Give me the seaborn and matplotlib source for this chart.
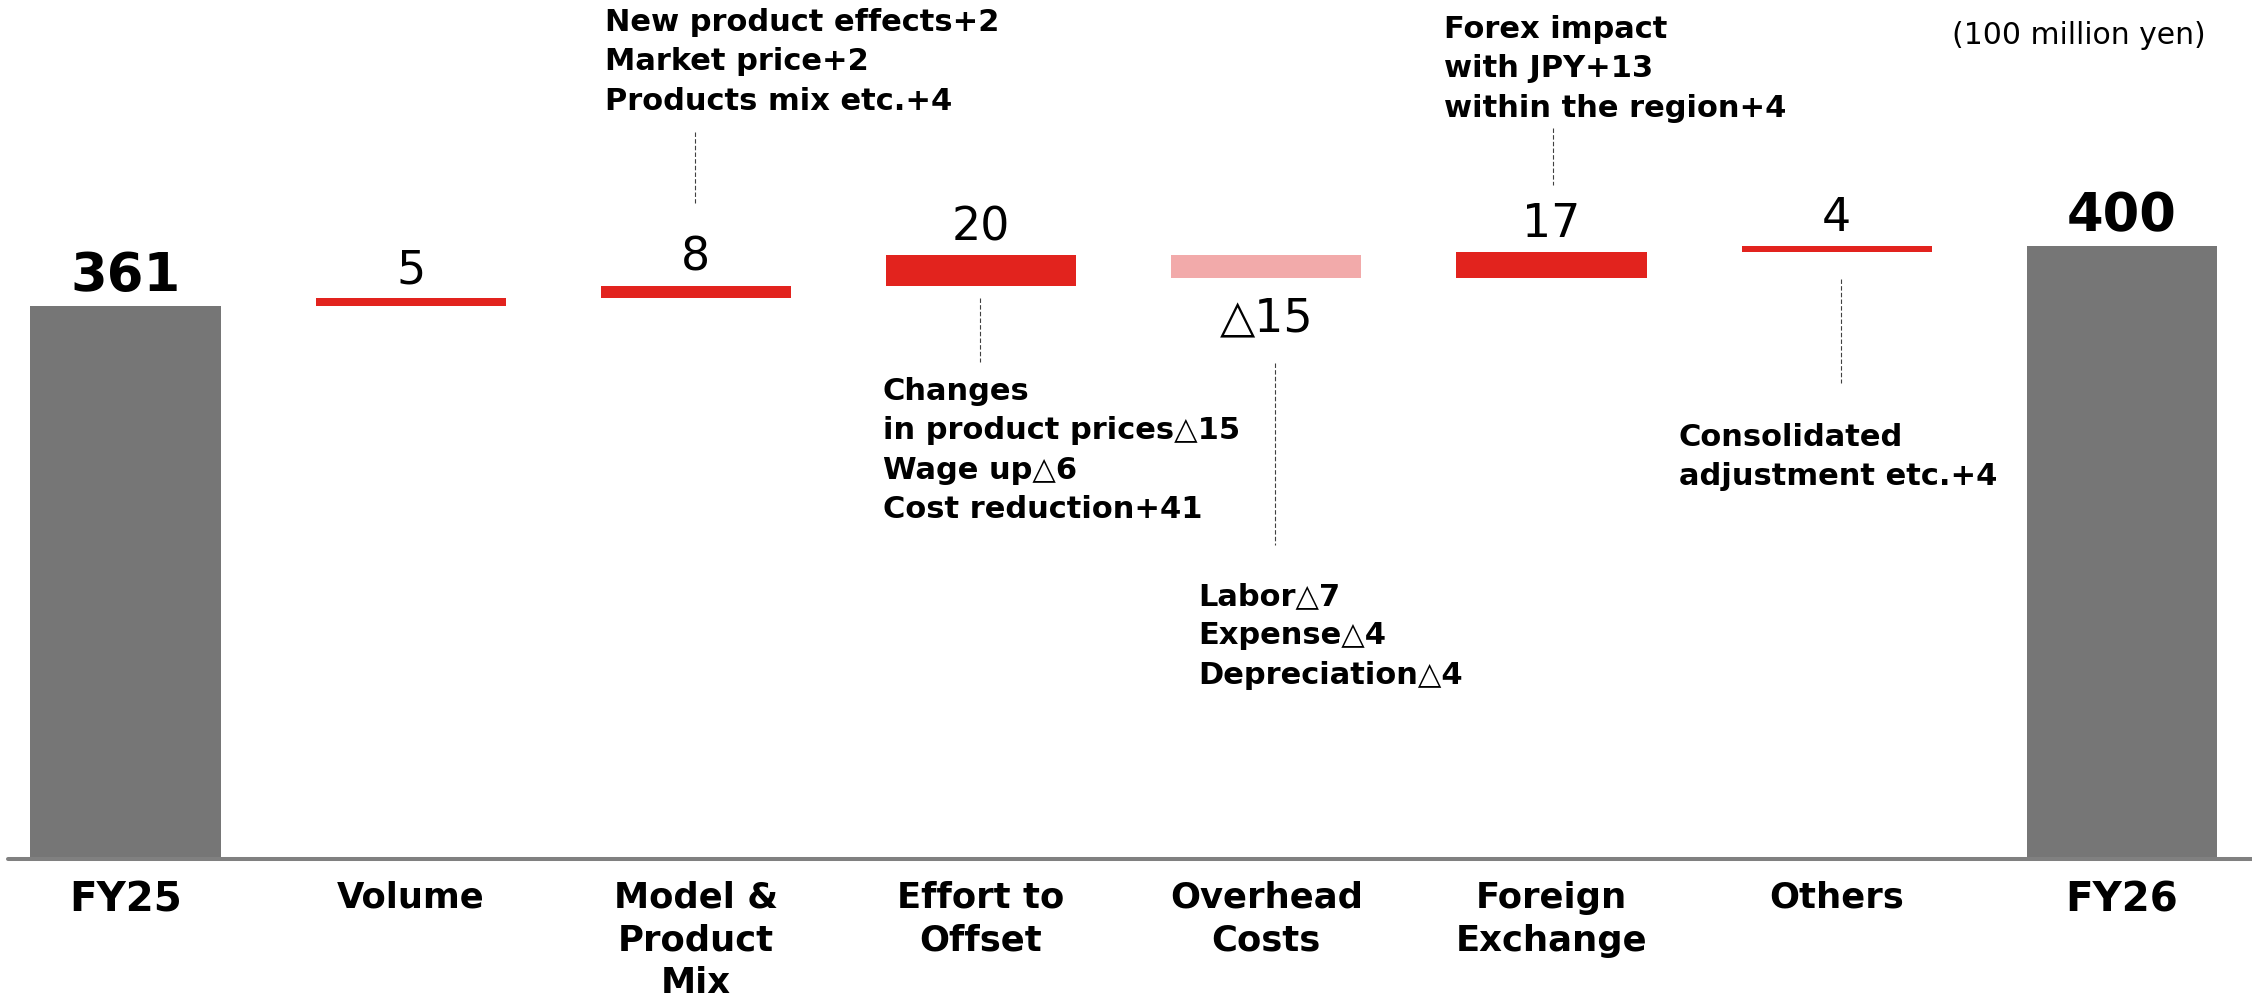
import numpy as np
import pandas as pd
import matplotlib
matplotlib.use("Agg")
import matplotlib.pyplot as plt
import seaborn as sns

# ---------------- data ----------------
categories = ["FY25", "Volume", "Model &\nProduct\nMix", "Effort to\nOffset",
              "Overhead\nCosts", "Foreign\nExchange", "Others", "FY26"]
start_value = 361
deltas = [5, 8, 20, -15, 17, 4]
end_value = 400

notes_model = "New product effects+2\nMarket price+2\nProducts mix etc.+4"
notes_effort = "Changes\nin product prices△15\nWage up△6\nCost reduction+41"
notes_overhead = "Labor△7\nExpense△4\nDepreciation△4"
notes_forex = "Forex impact\nwith JPY+13\nwithin the region+4"
notes_others = "Consolidated\nadjustment etc.+4"
unit_label = "(100 million yen)"

# ---------------- derived waterfall geometry ----------------
heights = [start_value] + deltas + [end_value]
bottoms = [0]
running = start_value
for d in deltas:
    bottoms.append(running)
    running += d
bottoms.append(0)
kinds = ["total"] + ["up" if d >= 0 else "down" for d in deltas] + ["total"]

def fmt(v):
    return ("△" + str(abs(v))) if v < 0 else str(v)

GRAY = "#767676"
RED = "#E2231E"
PINK = "#F2AAAA"
color_map = {"total": GRAY, "up": RED, "down": PINK}

# ---------------- figure ----------------
sns.set_style("white")
plt.rcParams["font.family"] = ["DejaVu Sans"]
plt.rcParams["text.color"] = "black"
plt.rcParams["xtick.color"] = "black"
plt.rcParams["xtick.labelcolor"] = "black"

W, H = 2252, 1000
fig = plt.figure(figsize=(W / 100, H / 100), dpi=100)
base_px = 857
px_per_unit = 1.527
ax = fig.add_axes([0, 1 - base_px / H, 1, base_px / H])

df = pd.DataFrame({"category": categories, "height": heights})
sns.barplot(data=df, x="category", y="height", order=categories,
            bottom=bottoms, width=0.667, errorbar=None, color=GRAY,
            saturation=1, ax=ax)
for patch, k in zip(ax.patches, kinds):
    patch.set_facecolor(color_map[k])
    patch.set_edgecolor("none")
    patch.set_zorder(2)

center0 = 125.5
spacing = 285.2
ax.set_xlim(-center0 / spacing, (W - center0) / spacing)
ax.set_ylim(0, base_px / px_per_unit)

# baseline
ax.axhline(-1.3, xmin=8 / W, xmax=1, color="#808080", lw=2.9, zorder=1,
           clip_on=False)

for s in ax.spines.values():
    s.set_visible(False)
ax.set_yticks([])
ax.set_ylabel("")
ax.set_xlabel("")
ax.set_xticks(range(len(categories)))
ax.set_xticklabels(categories)
ax.tick_params(axis="x", length=0, pad=17, labelcolor="black")
for lab, k in zip(ax.get_xticklabels(), kinds):
    lab.set_fontweight("bold")
    lab.set_linespacing(1.33)
    lab.set_fontsize(29 if k == "total" else 25.5)
    lab.set_color("black")

# value labels
for i, (h, b, k) in enumerate(zip(heights, bottoms, kinds)):
    top = b + max(h, 0)
    if k == "total":
        ax.annotate(fmt(h), (i, top), xytext=(0, 10.8), textcoords="offset points",
                    ha="center", va="baseline", fontsize=38, fontweight="bold",
                    color="black")
    elif h >= 0:
        ax.annotate(fmt(h), (i, top), xytext=(0, 10.8), textcoords="offset points",
                    ha="center", va="baseline", fontsize=33, color="black")
    else:
        ax.annotate(fmt(h), (i, b + h), xytext=(0, -13), textcoords="offset points",
                    ha="center", va="top", fontsize=33, color="black")

# annotation texts (layout in pixel units of the 2252x1000 canvas)
def fx(px):
    return px / W

def fy(py):
    return 1 - py / H

def ydat(py):
    return (base_px - py) / px_per_unit

def xdat(px):
    return (px - center0) / spacing

note_kw = dict(ha="left", va="top", fontsize=22, fontweight="bold",
               linespacing=1.45, color="black")
fig.text(fx(605), fy(8), notes_model, **note_kw)
fig.text(fx(883), fy(377), notes_effort, **note_kw)
fig.text(fx(1198), fy(582), notes_overhead, **note_kw)
fig.text(fx(1444), fy(15), notes_forex, **note_kw)
fig.text(fx(1679), fy(423), notes_others, **note_kw)
fig.text(fx(2206), fy(21), unit_label, ha="right", va="top", fontsize=21.5,
         color="black")

# dashed connectors
connectors = [(695, 132, 203), (980, 298, 362), (1275, 363, 545),
              (1553, 128, 185), (1841, 279, 383)]
for cx, y0, y1 in connectors:
    ax.plot([xdat(cx), xdat(cx)], [ydat(y0), ydat(y1)], color="#404040",
            lw=0.8, dashes=(4, 2), clip_on=False, zorder=3)

fig.savefig("out.png", dpi=100)
